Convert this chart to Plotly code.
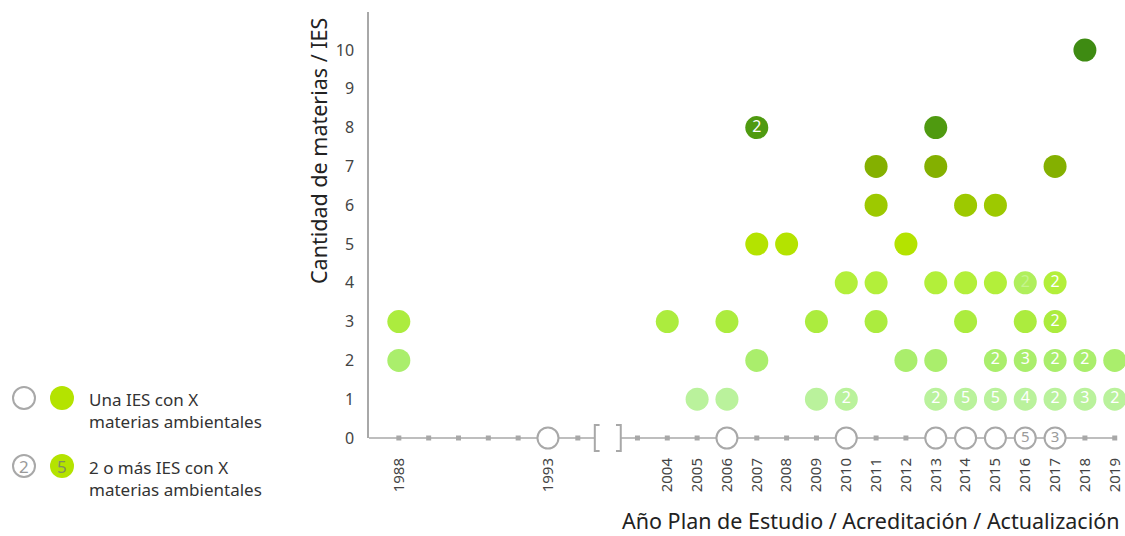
import plotly.graph_objects as go

# ---------------- data ----------------
slot_labels = ["1988", "", "", "", "", "1993", "", "", "",
               "2004", "2005", "2006", "2007", "2008", "2009", "2010", "2011",
               "2012", "2013", "2014", "2015", "2016", "2017", "2018", "2019"]
break_slot = 7

# filled dots: year, number of subjects, number of IES (1 = no label)
dot_years = ["2005", "2006", "2009", "2010", "2013", "2014", "2015", "2016", "2017", "2018", "2019",
             "1988", "2007", "2012", "2013", "2015", "2016", "2017", "2018", "2019",
             "1988", "2004", "2006", "2009", "2011", "2014", "2016", "2017",
             "2010", "2011", "2013", "2014", "2015", "2016", "2017",
             "2007", "2008", "2012",
             "2011", "2014", "2015",
             "2011", "2013", "2017",
             "2007", "2013",
             "2018"]
dot_values = [1, 1, 1, 1, 1, 1, 1, 1, 1, 1, 1,
              2, 2, 2, 2, 2, 2, 2, 2, 2,
              3, 3, 3, 3, 3, 3, 3, 3,
              4, 4, 4, 4, 4, 4, 4,
              5, 5, 5,
              6, 6, 6,
              7, 7, 7,
              8, 8,
              10]
dot_counts = [1, 1, 1, 2, 2, 5, 5, 4, 2, 3, 2,
              1, 1, 1, 1, 2, 3, 2, 2, 1,
              1, 1, 1, 1, 1, 1, 1, 2,
              1, 1, 1, 1, 1, 2, 2,
              1, 1, 1,
              1, 1, 1,
              1, 1, 1,
              2, 1,
              1]

# open circles on the baseline (year, number of IES)
zero_years = ["1993", "2006", "2010", "2013", "2014", "2015", "2016", "2017"]
zero_counts = [1, 1, 1, 1, 1, 1, 5, 3]

level_colors = {1: "#baf29c", 2: "#aaee6c", 3: "#acec3e", 4: "#b3ef3a", 5: "#b4e300",
                6: "#9dc900", 7: "#84b000", 8: "#4f9a10", 10: "#3e8b12"}

FONT = "Noto Sans"
GRAY = "#a8a8a8"

def slot(y):
    return slot_labels.index(y)

fig = go.Figure()

# small square markers on baseline
zero_slots = [slot(y) for y in zero_years]
sq_x = [i for i in range(len(slot_labels)) if i != break_slot and i not in zero_slots]
fig.add_trace(go.Scatter(x=sq_x, y=[0] * len(sq_x), mode="markers",
                         marker=dict(symbol="square", size=5, color=GRAY),
                         hoverinfo="skip", cliponaxis=False, showlegend=False))

# open circles
fig.add_trace(go.Scatter(
    x=zero_slots, y=[0] * len(zero_slots), mode="markers+text",
    marker=dict(symbol="circle", size=21, color="white", line=dict(color=GRAY, width=2)),
    text=[str(c) if c > 1 else "" for c in zero_counts], textposition="middle center",
    textfont=dict(family=FONT, size=15, color="#9a9a9a"),
    cliponaxis=False, showlegend=False, hoverinfo="skip"))

# filled dots
colors = [level_colors[v] for v in dot_values]
txt = [str(c) if c > 1 else "" for c in dot_counts]
tcol = ["white"] * len(dot_counts)
for i, (y, v) in enumerate(zip(dot_years, dot_values)):
    if y == "2016" and v == 4:
        colors[i] = "#b0ef5c"
        tcol[i] = "#c6f48e"
fig.add_trace(go.Scatter(
    x=[slot(y) for y in dot_years], y=dot_values, mode="markers+text",
    marker=dict(symbol="circle", size=23, color=colors, line=dict(width=0)),
    text=txt, textposition="middle center",
    textfont=dict(family=FONT, size=16, color=tcol),
    cliponaxis=False, showlegend=False, hoverinfo="skip"))

# geometry helpers (pixel layout)
L, W, T, H = 369, 752, 12, 426
XMIN, XMAX = -1, 24.21
def px(xp):
    return (xp - L) / W
def py(yp):
    return (T + H - yp) / H
def sx(s):  # slot -> paper x
    return (s - XMIN) / (XMAX - XMIN)

shapes = []
# broken x axis line (paper coords so nothing is clipped)
b0, b1 = 6.57, 7.44
shapes.append(dict(type="line", xref="paper", yref="paper", x0=sx(-1), x1=sx(b0), y0=0, y1=0,
                   line=dict(color=GRAY, width=1.5), layer="below"))
shapes.append(dict(type="line", xref="paper", yref="paper", x0=sx(b1), x1=sx(24), y0=0, y1=0,
                   line=dict(color=GRAY, width=1.5), layer="below"))
# brackets
hb = 13 / H
shapes.append(dict(type="path", xref="paper", yref="paper",
                   path=f"M {sx(b0 + 0.16)} {hb} L {sx(b0)} {hb} L {sx(b0)} {-hb} L {sx(b0 + 0.16)} {-hb}",
                   line=dict(color=GRAY, width=2)))
shapes.append(dict(type="path", xref="paper", yref="paper",
                   path=f"M {sx(b1 - 0.16)} {hb} L {sx(b1)} {hb} L {sx(b1)} {-hb} L {sx(b1 - 0.16)} {-hb}",
                   line=dict(color=GRAY, width=2)))

def circ(cx, cy, r, fill, line_color, lw):
    return dict(type="circle", xref="paper", yref="paper", xsizemode="pixel", ysizemode="pixel",
                xanchor=px(cx), yanchor=py(cy), x0=-r, x1=r, y0=-r, y1=r,
                fillcolor=fill, line=dict(color=line_color, width=lw))

shapes += [circ(24, 398, 11, "white", GRAY, 2), circ(62, 398, 12, "#b4e300", "#b4e300", 0),
           circ(24, 466, 11, "white", GRAY, 2), circ(62, 466, 12, "#b4e300", "#b4e300", 0)]

annotations = [
    dict(text="2", x=px(24), y=py(466), xref="paper", yref="paper", showarrow=False,
         xanchor="center", yanchor="middle",
         font=dict(family=FONT, size=17, color="#9a9a9a")),
    dict(text="5", x=px(62), y=py(466), xref="paper", yref="paper", showarrow=False,
         xanchor="center", yanchor="middle",
         font=dict(family=FONT, size=17, color="#7f8f60")),
    dict(text="Una IES con X<br>materias ambientales", x=px(87), y=py(410), xref="paper", yref="paper",
         showarrow=False, xanchor="left", yanchor="middle", align="left",
         font=dict(family=FONT, size=17, color="#333")),
    dict(text="2 o más IES con X<br>materias ambientales", x=px(87), y=py(478), xref="paper", yref="paper",
         showarrow=False, xanchor="left", yanchor="middle", align="left",
         font=dict(family=FONT, size=17, color="#333")),
    dict(text="Cantidad de materias / IES", x=px(318), y=py(151), xref="paper", yref="paper",
         showarrow=False, textangle=-90, xanchor="center", yanchor="middle",
         font=dict(family=FONT, size=21.5, color="#222")),
    dict(text="Año Plan de Estudio / Acreditación / Actualización", x=px(1121), y=py(520),
         xref="paper", yref="paper", showarrow=False, xanchor="right", yanchor="middle",
         font=dict(family=FONT, size=21.5, color="#222")),
]

fig.update_layout(
    width=1125, height=536, paper_bgcolor="white", plot_bgcolor="white",
    margin=dict(l=L, r=1125 - L - W, t=T, b=536 - T - H, autoexpand=False),
    shapes=shapes, annotations=annotations,
    xaxis=dict(range=[XMIN, XMAX], tickvals=list(range(len(slot_labels))), ticktext=slot_labels,
               tickangle=-90, showgrid=False, zeroline=False, showline=False, ticks="",
               ticklabelstandoff=16, tickfont=dict(family=FONT, size=15, color="#444")),
    yaxis=dict(range=[0, 10.98], tickvals=list(range(11)), showgrid=False, zeroline=False,
               showline=True, linecolor=GRAY, linewidth=1.5, ticks="", ticklabelstandoff=10,
               tickfont=dict(family=FONT, size=16, color="#444")),
)

fig.write_html("out.html", config={"displayModeBar": False},
               post_script="document.body.style.margin='0';document.body.style.overflow='hidden';")
